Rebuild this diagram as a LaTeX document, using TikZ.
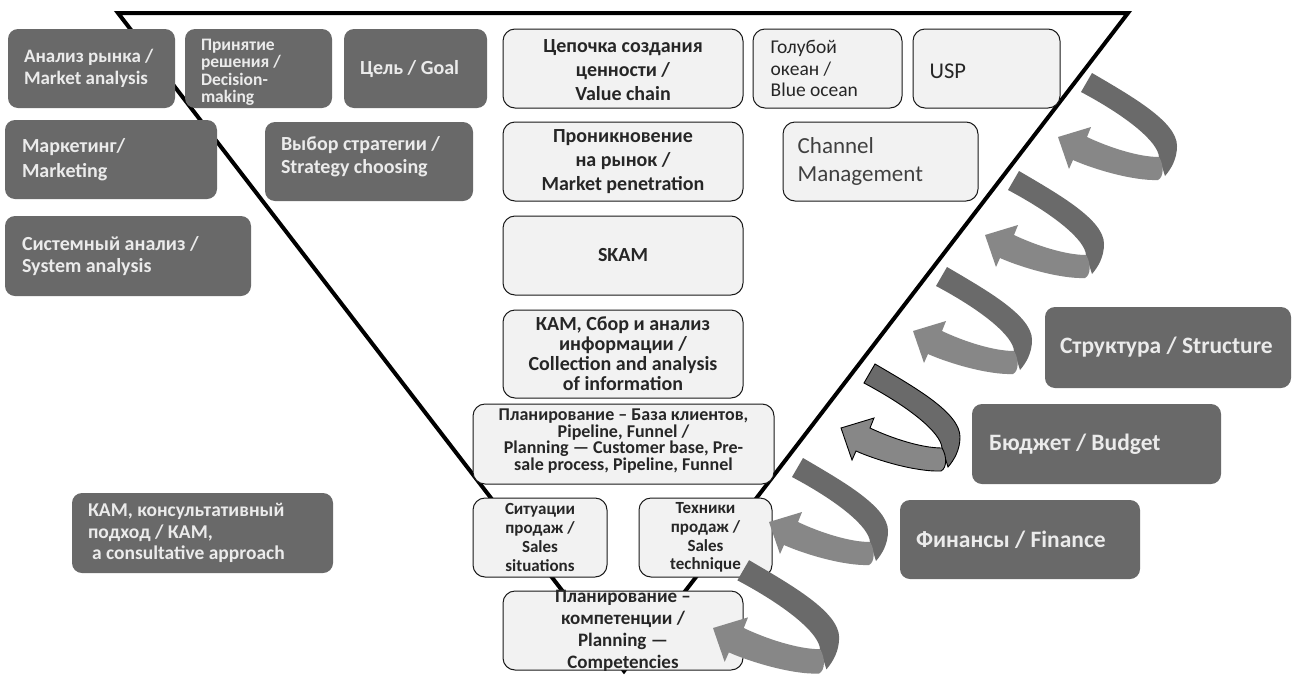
\documentclass[tikz,border=0pt]{standalone}
\usepackage{fontspec}
\setmainfont{Carlito}
\definecolor{boxdark}{HTML}{696969}
\definecolor{boxlight}{HTML}{F2F2F2}
\definecolor{textlight}{HTML}{EBEBEB}
\definecolor{textdark}{HTML}{262626}
\definecolor{textgray}{HTML}{404040}
\definecolor{ribbondark}{HTML}{6A6A6A}
\definecolor{ribbonlight}{HTML}{878787}
\newcommand\boldsz[2]{\fontsize{#1}{#2}\selectfont\bfseries}
\newcommand\regsz[2]{\fontsize{#1}{#2}\selectfont}
\tikzset{
  dbox/.style={rectangle, rounded corners=10pt, fill=boxdark, draw=none, inner sep=0pt},
  lbox/.style={rectangle, rounded corners=12pt, fill=boxlight, draw=black!90, line width=1pt, inner sep=0pt},
  dtext/.style={text=textlight, align=left, inner sep=0pt, anchor=west},
  ctext/.style={text=textdark, align=center, inner sep=0pt},
  ltext/.style={text=textdark, align=left, inner sep=0pt, anchor=west},
  ribbon part/.style={},
  pics/uturn/.style={code={
    % outer (dark) side of the turning band
    \fill[ribbondark, ribbon part] (34,-64) .. controls (75,-40) and (119,-15) .. (119,9)
      .. controls (119,22) and (113,32) .. (107,39) -- (101,20)
      .. controls (100,5) and (70,-20) .. (23,-45) -- cycle;
    % inner (light) side returning into the head
    \fill[ribbonlight, ribbon part] (101,20) .. controls (80,20) and (50,10) .. (29,0)
      -- (33,-10) -- (0,0) -- (11,32) -- (15,23)
      .. controls (35,32) and (75,44) .. (100,43)
      .. controls (106,40) and (106,28) .. (101,20) -- cycle;
  }}
}
\begin{document}
\begin{tikzpicture}[x=1pt,y=-1pt]
\useasboundingbox (0,0) rectangle (1293,675);
\fill[white] (0,0) rectangle (1293,675);

% funnel outline
\draw[line width=4pt, line join=miter] (118,13) -- (1128,13) -- (624,671) -- cycle;

% ---- dark boxes on the left ----
\node[dbox, minimum width=167pt, minimum height=79pt] (ana) at (91.5,68.5) {};
\node[dtext, font=\boldsz{19}{22}] at ([xshift=16pt]ana.west) {Анализ рынка /\\Market analysis};

\node[dbox, minimum width=147pt, minimum height=79pt] (dec) at (258.5,68.5) {};
\node[dtext, font=\boldsz{17.5}{17.5}] at ([xshift=16pt,yshift=-4pt]dec.west) {Принятие\\решения /\\Decision-\\making};

\node[dbox, minimum width=143pt, minimum height=79pt] (goal) at (415.5,68.5) {};
\node[dtext, font=\boldsz{20}{24}] at ([xshift=16pt,yshift=-1pt]goal.west) {Цель / Goal};

\node[dbox, minimum width=212pt, minimum height=79pt] (mkt) at (111,159.5) {};
\node[dtext, font=\boldsz{20}{24.5}] at ([xshift=17pt]mkt.west) {Маркетинг/\\Marketing};

\node[dbox, minimum width=208pt, minimum height=79pt] (strat) at (369,161.5) {};
\node[dtext, font=\boldsz{20}{23.5}] at ([xshift=16pt,yshift=5pt]strat.west) {Выбор стратегии /\\Strategy choosing};

\node[dbox, minimum width=246pt, minimum height=80pt] (sys) at (128,256) {};
\node[dtext, font=\boldsz{20}{22.5}] at ([xshift=17pt]sys.west) {Системный анализ /\\System analysis};

\node[dbox, minimum width=261pt, minimum height=80pt] (kamc) at (202.5,533) {};
\node[dtext, font=\boldsz{19.5}{21.7}] at ([xshift=16pt]kamc.west) {КАМ, консультативный\\подход / КАМ,\\\hspace*{4pt}a consultative approach};

% ---- funnel boxes ----
\node[lbox, minimum width=240pt, minimum height=79pt] (vc) at (623,68.5) {};
\node[ctext, font=\boldsz{20}{24}] at ([yshift=-2pt]vc.center) {Цепочка создания\\ценности /\\Value chain};

\node[lbox, minimum width=149pt, minimum height=79pt] (blue) at (827.5,68.5) {};
\node[ltext, font=\regsz{19.5}{21.5}] at ([xshift=18pt]blue.west) {Голубой\\океан /\\Blue ocean};

\node[lbox, minimum width=147pt, minimum height=79pt] (usp) at (986.5,68.5) {};
\node[ltext, font=\regsz{22.5}{26}] at ([xshift=17pt,yshift=-3pt]usp.west) {USP};

\node[lbox, minimum width=240pt, minimum height=79pt] (pen) at (623,161.5) {};
\node[ctext, font=\boldsz{20}{24}] at (pen.center) {Проникновение\\на рынок /\\Market penetration};

\node[lbox, minimum width=195pt, minimum height=79pt] (chan) at (880.5,161.5) {};
\node[ltext, text=textgray, font=\regsz{23}{28.5}] at ([xshift=15pt]chan.west) {Channel\\Management};

\node[lbox, minimum width=240pt, minimum height=79pt] (skam) at (623,255.5) {};
\node[ctext, font=\boldsz{20}{22}] at (skam.center) {SKAM};

\node[lbox, minimum width=240pt, minimum height=88pt] (kamsb) at (623,354) {};
\node[ctext, font=\boldsz{20}{20}] at (kamsb.center) {КАМ, Сбор и анализ\\информации /\\Collection and analysis\\of information};

\node[lbox, minimum width=301pt, minimum height=80pt] (plan) at (623.5,444) {};
\node[ctext, font=\boldsz{18}{16.7}] at ([yshift=3pt]plan.center) {Планирование – База клиентов,\\Pipeline, Funnel /\\Planning — Customer base, Pre-\\sale process, Pipeline, Funnel};

\node[lbox, minimum width=134pt, minimum height=79pt] (sit) at (540,537.5) {};
\node[ctext, font=\boldsz{17}{18.8}] at (sit.center) {Ситуации\\продаж /\\Sales\\situations};

\node[lbox, minimum width=133pt, minimum height=79pt] (tech) at (705.5,537.5) {};
\node[ctext, font=\boldsz{17}{18.8}] at (tech.center) {Техники\\продаж /\\Sales\\technique};

\node[lbox, minimum width=240pt, minimum height=79pt] (comp) at (623,630.5) {};
\node[ctext, font=\boldsz{19}{22}] at (comp.center) {Планирование –\\компетенции /\\Planning —\\Competencies};

% ---- resource boxes on the right ----
\node[dbox, minimum width=246pt, minimum height=81pt] (struct) at (1168,347.5) {};
\node[dtext, font=\boldsz{23.5}{26}] at ([xshift=15pt]struct.west) {Структура / Structure};

\node[dbox, minimum width=249pt, minimum height=80pt] (budget) at (1096.5,444) {};
\node[dtext, font=\boldsz{23.5}{26}] at ([xshift=17pt]budget.west) {Бюджет / Budget};

\node[dbox, minimum width=240pt, minimum height=79pt] (fin) at (1020,539.5) {};
\node[dtext, font=\boldsz{23.5}{26}] at ([xshift=16pt]fin.west) {Финансы / Finance};

% ---- U-turn ribbons feeding back into the funnel ----
\pic at (1058,137) {uturn};
\pic at (985,235) {uturn};
\pic at (913,331) {uturn};
\pic[ribbon part/.style={draw=black, line width=0.9pt}] at (841,428) {uturn};
\pic at (769,522) {uturn};
\pic[scale=1.06] at (713,628) {uturn};
\end{tikzpicture}
\end{document}
